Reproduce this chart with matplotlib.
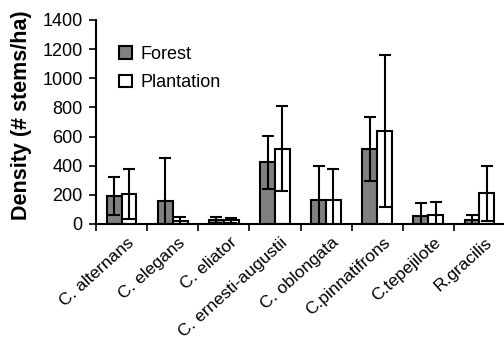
import matplotlib
matplotlib.use("Agg")
import matplotlib.pyplot as plt
import numpy as np
from matplotlib.patches import Patch
from matplotlib.transforms import ScaledTranslation

plt.rcParams['font.family'] = ['Liberation Sans', 'DejaVu Sans']

species = ["C. alternans", "C. elegans", "C. eliator", "C. ernesti-augustii",
           "C. oblongata", "C.pinnatifrons", "C.tepejilote", "R.gracilis"]
forest = [190, 160, 28, 423, 167, 512, 52, 30]
forest_err = [130, 290, 18, 181, 230, 220, 94, 30]
plantation = [205, 23, 26, 518, 165, 640, 60, 210]
plantation_err = [170, 27, 17, 290, 212, 520, 92, 190]
yticks = [0, 200, 400, 600, 800, 1000, 1200, 1400]

fig = plt.figure(figsize=(5.04, 3.44), dpi=100)
ax = fig.add_axes([96/504, 1-224/344, 409/504, 204/344])

x = np.arange(len(species))
w = 0.29
ekw = dict(ecolor='black', elinewidth=1.5, capsize=4, capthick=1.5)
ax.bar(x - w/2, forest, w, color='#808080', edgecolor='black', linewidth=1.5,
       yerr=forest_err, error_kw=ekw, label='Forest', zorder=2)
ax.bar(x + w/2, plantation, w, color='white', edgecolor='black', linewidth=1.5,
       yerr=plantation_err, error_kw=ekw, label='Plantation', zorder=2)

ax.set_xlim(-0.5, len(species) - 0.5)
ax.set_ylim(0, 1400)
ax.set_yticks(yticks)
ax.set_yticklabels([str(v) for v in yticks], fontsize=13)
ax.set_xticks(np.arange(len(species) + 1) - 0.5)
ax.set_xticklabels([])
ax.set_xticks(x, minor=True)
ax.set_xticklabels(species, minor=True, rotation=42, ha='right', va='top',
                   rotation_mode='anchor', fontsize=12.5)
ax.tick_params(axis='x', which='minor', length=0, pad=7.9)
ax.tick_params(axis='x', which='major', direction='out', length=5, width=1.2)
ax.tick_params(axis='y', direction='out', length=5, width=1.2, pad=4.5)
off = ScaledTranslation(5.5/100, 0, fig.dpi_scale_trans)
for lab in ax.get_xticklabels(minor=True):
    lab.set_transform(lab.get_transform() + off)
for s in ['top', 'right']:
    ax.spines[s].set_visible(False)
for s in ['left', 'bottom']:
    ax.spines[s].set_linewidth(1.5)
    ax.spines[s].set_clip_on(False)

ax.set_ylabel('Density (# stems/ha)', fontsize=15.5, fontweight='bold')
ax.yaxis.set_label_coords(-0.157, 0.534)

handles = [Patch(facecolor='#808080', edgecolor='black', linewidth=1.5, label='Forest'),
           Patch(facecolor='white', edgecolor='black', linewidth=1.5, label='Plantation')]
ax.legend(handles=handles, loc='upper left', bbox_to_anchor=(0.057, 0.873), frameon=False,
          fontsize=13, handlelength=0.7, handleheight=0.7, handletextpad=0.5,
          labelspacing=0.64, borderpad=0, borderaxespad=0)

fig.savefig('out.png', dpi=100)
